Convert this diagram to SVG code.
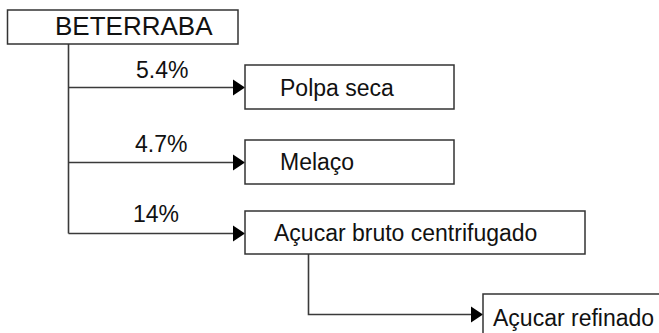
<svg xmlns="http://www.w3.org/2000/svg" width="659" height="333" viewBox="0 0 659 333">
<style>
.box{fill:#fff;stroke:#333;stroke-width:1.5}
.ln{fill:none;stroke:#3a3a3a;stroke-width:1.6}
.ah{fill:#000}
text{font-family:"Liberation Sans",Arial,sans-serif;font-size:23px;fill:#111}
</style>
<rect width="659" height="333" fill="#fff"/>
<g id="connectors">
<path class="ln" d="M68.5 44 V233.5 M68.5 87.5 H234 M68.5 162.5 H234 M68.5 233.5 H234"/>
<path class="ln" d="M308.5 254 V314.5 H472"/>
<polygon class="ah" points="233,79.5 245,87.5 233,95.5"/>
<polygon class="ah" points="233,154.5 245,162.5 233,170.5"/>
<polygon class="ah" points="233,225.5 245,233.5 233,241.5"/>
<polygon class="ah" points="471,306.5 483,314.5 471,322.5"/>
<text x="136" y="78">5.4%</text>
<text x="135" y="152">4.7%</text>
<text x="133" y="222">14%</text>
</g>
<g id="beterraba">
<rect class="box" x="7.5" y="10" width="230.5" height="34"/>
<text x="55" y="34.5" style="font-size:26px">BETERRABA</text>
</g>
<g id="polpa">
<rect class="box" x="245" y="65" width="209" height="44"/>
<text x="280" y="96">Polpa seca</text>
</g>
<g id="melaco">
<rect class="box" x="245" y="140" width="209" height="44"/>
<text x="280" y="169.5">Melaço</text>
</g>
<g id="bruto">
<rect class="box" x="245" y="211" width="340" height="43"/>
<text x="274" y="241">Açucar bruto centrifugado</text>
</g>
<g id="refinado">
<rect class="box" x="483" y="294" width="200" height="60"/>
<text x="493" y="326">Açucar refinado</text>
</g>
</svg>
